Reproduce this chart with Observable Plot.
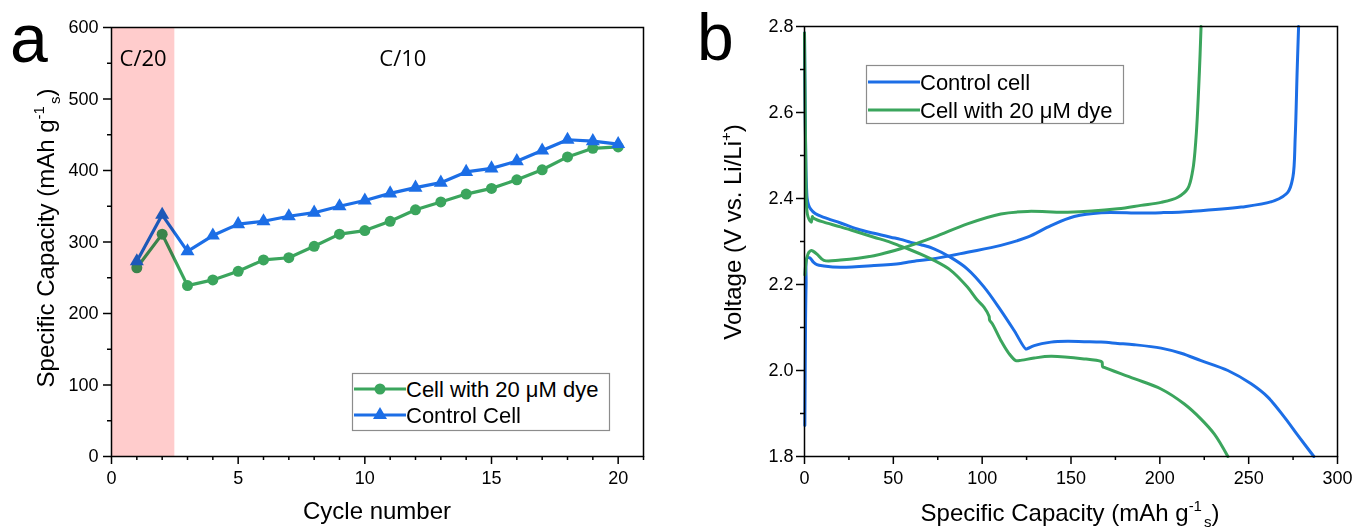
<!DOCTYPE html>
<html><head><meta charset="utf-8">
<script src="https://cdn.jsdelivr.net/npm/d3@7"></script>
<script src="https://cdn.jsdelivr.net/npm/@observablehq/plot@0.6"></script>
<style>
body{margin:0;background:#fff;}
#wrap{position:relative;width:1352px;height:529px;overflow:hidden;background:#fff;}
#wrap > svg, #wrap > div{position:absolute;top:0;}
</style></head><body><div id="wrap"></div>
<script>
// ---------- Panel a data ----------
const cycles = [1,2,3,4,5,6,7,8,9,10,11,12,13,14,15,16,17,18,19,20];
const dyeCapacity = [264,311,239,247,259,275,278,294,311,316,329,345,356,367,375,387,401,419,431,433];
const controlCapacity = [273,338,287,309,325,329,336,341,350,358,368,376,383,398,403,413,428,443,441,437];
const rateBands = [{rate:"C/20", from:0, to:2.5, shaded:true}, {rate:"C/10", from:2.5, to:21, shaded:false}];
const xTicksA = [0,5,10,15,20];
const xMinorA = [1,2,3,4,6,7,8,9,11,12,13,14,16,17,18,19,21];
const yTicksA = [0,100,200,300,400,500,600];
const yMinorA = [50,150,250,350,450,550];

// ---------- Panel b data: [capacity mAh/g, voltage V] ----------
const controlDischarge = [[0,2.785],[0.4,2.6],[0.8,2.47],[1.2,2.42],[1.5,2.40],[2.3,2.385],[3.4,2.376],[6,2.365],[10.9,2.356],[20.3,2.343],[29.7,2.329],[39.1,2.319],[48.5,2.31],[54.1,2.305],[59.8,2.298],[66,2.292],[72.9,2.283],[82.3,2.263],[91.7,2.236],[101.1,2.194],[110.5,2.14],[118,2.093],[124.6,2.05],[125.5,2.051],[129.3,2.058],[138.7,2.066],[148,2.068],[157.4,2.067],[166.9,2.066],[176.3,2.063],[185.6,2.06],[200.7,2.052],[212,2.04],[223.2,2.023],[238.3,2.0],[251.4,1.969],[260.8,1.938],[270.2,1.891],[277.7,1.849],[286.7,1.8]];
const controlCharge = [[0.2,1.872],[0.4,2.0],[0.6,2.12],[0.9,2.2],[1.5,2.262],[3,2.262],[5,2.252],[7,2.246],[10.9,2.243],[20.3,2.24],[39.1,2.244],[54.1,2.249],[59.8,2.253],[72.9,2.26],[91.7,2.275],[110.5,2.291],[125.5,2.31],[138.7,2.337],[151.8,2.358],[166.9,2.367],[189.4,2.366],[200.7,2.367],[217.6,2.37],[245.8,2.38],[264.6,2.395],[272.1,2.415],[274.9,2.45],[276.2,2.543],[277.3,2.698],[278.1,2.8]];
const dyeDischarge = [[0,2.785],[0.4,2.6],[0.8,2.45],[1.2,2.38],[1.6,2.364],[2.5,2.352],[3.8,2.345],[4.4,2.358],[4.9,2.355],[7.2,2.35],[10.9,2.345],[20.3,2.334],[29.7,2.322],[39.1,2.31],[48.5,2.298],[54.1,2.289],[58.8,2.282],[72.9,2.256],[82.3,2.233],[91.7,2.194],[97,2.165],[101.1,2.147],[103.9,2.126],[104.2,2.117],[105.8,2.108],[110.5,2.07],[115,2.04],[118.9,2.023],[121,2.023],[129.3,2.029],[138.7,2.033],[157.4,2.027],[166.9,2.021],[167.5,2.019],[167.8,2.009],[168.7,2.007],[185.6,1.981],[200.7,1.957],[213.8,1.922],[223.2,1.887],[230.7,1.852],[238.3,1.8]];
const dyeCharge = [[0.2,2.222],[0.8,2.25],[1.5,2.265],[2.5,2.275],[3.8,2.279],[5,2.277],[7.2,2.27],[10.9,2.256],[20.3,2.257],[39.1,2.267],[54.1,2.283],[72.9,2.31],[91.7,2.341],[110.5,2.364],[125.5,2.37],[148.1,2.368],[176.3,2.376],[189.4,2.384],[200.7,2.391],[210.1,2.403],[215.7,2.423],[218.5,2.465],[220.4,2.543],[222.3,2.698],[223.2,2.8]];
const xTicksB = [0,50,100,150,200,250,300];
const xMinorB = [25,75,125,175,225,275];
const yTicksB = [1.8,2.0,2.2,2.4,2.6,2.8];
const yMinorB = [1.9,2.1,2.3,2.5,2.7];

const FONT = "'Liberation Sans', Arial, Helvetica, sans-serif";
const GREEN = "#3ba55d", BLUE = "#1c6ee6", PINK = "#ffcccc";

const dyeSeries = cycles.map((c,i)=>({cycle:c, cap:dyeCapacity[i]}));
const controlSeries = cycles.map((c,i)=>({cycle:c, cap:controlCapacity[i]}));

const wrap = document.getElementById("wrap");

const plotA = Plot.plot({
  width: 680, height: 529,
  marginLeft: 111, marginRight: 37, marginTop: 27, marginBottom: 73,
  x: {domain: [0, 21]},
  y: {domain: [0, 600]},
  style: {fontFamily: FONT, fontSize: "18px", color: "#000", background: "#fff", overflow: "visible"},
  marks: [
    Plot.line(dyeSeries, {x: "cycle", y: "cap", stroke: GREEN, strokeWidth: 3.2}),
    Plot.dot(dyeSeries, {x: "cycle", y: "cap", fill: GREEN, r: 5.5, symbol: "circle"}),
    Plot.line(controlSeries, {x: "cycle", y: "cap", stroke: BLUE, strokeWidth: 3.2}),
    Plot.dot(controlSeries, {x: "cycle", y: "cap", fill: BLUE, r: 5.2, symbol: "triangle"}),
    Plot.rect(rateBands.filter(d => d.shaded), {x1: "from", x2: "to", y1: () => 0, y2: () => 600, fill: PINK, mixBlendMode: "multiply", ariaLabel: "band"}),
    Plot.text(rateBands, {x: d => (d.from + d.to) / 2 - (d.shaded ? 0 : 0.25), y: () => 556, text: "rate", fontFamily: "'Open Sans', sans-serif", fontSize: 22, fill: "#000"}),
    Plot.axisX({ticks: xTicksA, tickSize: 8, tickPadding: 7, label: null, strokeWidth: 1.5}),
    Plot.axisX({ticks: xMinorA, tickSize: 4, text: null, label: null, strokeWidth: 1.5}),
    Plot.axisY({ticks: yTicksA, tickSize: 8, tickPadding: 5, label: null, strokeWidth: 1.5}),
    Plot.axisY({ticks: yMinorA, tickSize: 4, text: null, label: null, strokeWidth: 1.5}),
    Plot.frame({stroke: "#000", strokeWidth: 1.5})
  ]
});
// make the shaded band multiply over the lines beneath it
d3.select(plotA).selectAll("g").filter(function() {
  return this.getAttribute("aria-label") === "band";
}).each(function() {
  this.style.mixBlendMode = "multiply";
  d3.select(this).selectAll("rect").style("mix-blend-mode", "multiply");
});
plotA.style.left = "0px";
wrap.appendChild(plotA);

const curveOpts = {x: d => d[0], y: d => d[1], strokeWidth: 3, curve: "catmull-rom"};
const plotB = Plot.plot({
  width: 672, height: 529,
  marginLeft: 124, marginRight: 15, marginTop: 26, marginBottom: 73,
  x: {domain: [0, 300]},
  y: {domain: [1.8, 2.8]},
  style: {fontFamily: FONT, fontSize: "18px", color: "#000", background: "transparent", overflow: "visible"},
  marks: [
    Plot.line(controlDischarge, {...curveOpts, stroke: BLUE}),
    Plot.line(controlCharge, {...curveOpts, stroke: BLUE}),
    Plot.line(dyeDischarge, {...curveOpts, stroke: GREEN}),
    Plot.line(dyeCharge, {...curveOpts, stroke: GREEN}),
    Plot.axisX({ticks: xTicksB, tickSize: 8, tickPadding: 7, label: null, strokeWidth: 1.5}),
    Plot.axisX({ticks: xMinorB, tickSize: 4, text: null, label: null, strokeWidth: 1.5}),
    Plot.axisY({ticks: yTicksB, tickSize: 8, tickPadding: 3, tickFormat: d3.format(".1f"), label: null, strokeWidth: 1.5}),
    Plot.axisY({ticks: yMinorB, tickSize: 4, text: null, label: null, strokeWidth: 1.5}),
    Plot.frame({stroke: "#000", strokeWidth: 1.5})
  ]
});
plotB.style.left = "680px";
wrap.appendChild(plotB);

// ---------- Overlay: panel letters, axis titles, legends ----------
const ov = d3.select(wrap).append("svg")
  .attr("width", 1352).attr("height", 529)
  .style("left", "0px").style("pointer-events", "none")
  .attr("font-family", FONT).attr("fill", "#000");

ov.append("text").attr("x", 10).attr("y", 62).attr("font-size", 68).text("a");
ov.append("text").attr("x", 697).attr("y", 60).attr("font-size", 66).text("b");

function capTitle(g, base) {
  const t = g.append("text").attr("font-size", 24).attr("text-anchor", "middle");
  t.append("tspan").text(base + " (mAh g");
  t.append("tspan").attr("font-size", 15).attr("dy", -10).text("-1");
  t.append("tspan").attr("font-size", 15).attr("dy", 16).attr("dx", 2).text("s");
  t.append("tspan").attr("dy", -6).text(")");
  return t;
}
capTitle(ov.append("g").attr("transform", "translate(54,238) rotate(-90)"), "Specific Capacity");
capTitle(ov.append("g").attr("transform", "translate(1070,521)"), "Specific Capacity");
ov.append("text").attr("x", 377).attr("y", 519).attr("font-size", 24).attr("text-anchor", "middle").text("Cycle number");
{
  const t = ov.append("text").attr("font-size", 24).attr("text-anchor", "middle")
    .attr("transform", "translate(741,232) rotate(-90)");
  t.append("tspan").text("Voltage (V vs. Li/Li");
  t.append("tspan").attr("font-size", 15).attr("dy", -10).text("+");
  t.append("tspan").attr("dy", 10).text(")");
}

// legend a
const legA = [{label: "Cell with 20 μM dye", color: GREEN, sym: "circle"}, {label: "Control Cell", color: BLUE, sym: "triangle"}];
ov.append("rect").attr("x", 352.5).attr("y", 373.5).attr("width", 257).attr("height", 57)
  .attr("fill", "#fff").attr("stroke", "#8c8c8c").attr("stroke-width", 1.2);
legA.forEach((d, i) => {
  const y = 389 + i * 26;
  ov.append("line").attr("x1", 354).attr("x2", 406).attr("y1", y).attr("y2", y).attr("stroke", d.color).attr("stroke-width", 3.2);
  if (d.sym === "circle") ov.append("circle").attr("cx", 380).attr("cy", y).attr("r", 5.5).attr("fill", d.color);
  else ov.append("path").attr("d", d3.symbol(d3.symbolTriangle, 5.2 * 5.2 * Math.PI)()).attr("transform", `translate(380,${y})`).attr("fill", d.color);
  ov.append("text").attr("x", 406).attr("y", y).attr("dy", "0.35em").attr("font-size", 22).text(d.label);
});

// legend b
const legB = [{label: "Control cell", color: BLUE}, {label: "Cell with 20 μM dye", color: GREEN}];
ov.append("rect").attr("x", 866.5).attr("y", 65.5).attr("width", 257).attr("height", 58)
  .attr("fill", "#fff").attr("stroke", "#8c8c8c").attr("stroke-width", 1.2);
legB.forEach((d, i) => {
  const y = 82 + i * 28;
  ov.append("line").attr("x1", 868).attr("x2", 920).attr("y1", y).attr("y2", y).attr("stroke", d.color).attr("stroke-width", 3);
  ov.append("text").attr("x", 920).attr("y", y).attr("dy", "0.35em").attr("font-size", 22).text(d.label);
});
</script></body></html>
